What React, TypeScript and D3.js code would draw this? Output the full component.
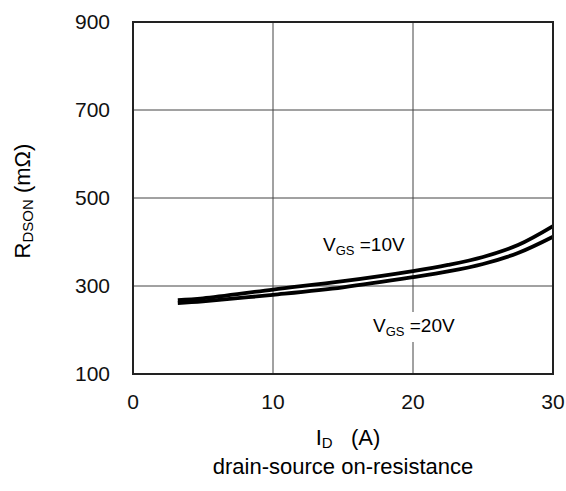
import React, { useEffect, useRef } from "react";
import * as d3 from "d3";

// drain current (A)
const currentA = [3.2, 5, 10, 15, 20, 22.5, 25, 27.5, 30];
// R DSON (mOhm) at VGS = 10V
const rdsVgs10 = [268, 272, 292, 311, 334, 348, 366, 393, 436];
// R DSON (mOhm) at VGS = 20V
const rdsVgs20 = [261, 265, 280, 297, 320, 333, 350, 375, 412];

const xTicks = [0, 10, 20, 30];
const yTicks = [100, 300, 500, 700, 900];

const App = () => {
  const ref = useRef<SVGSVGElement | null>(null);

  useEffect(() => {
    const svg = d3.select(ref.current);
    svg.selectAll("*").remove();

    const margin = { top: 22, left: 133 },
      width = 420,
      height = 352,
      font = "Liberation Sans, Arial, sans-serif";

    const x = d3.scaleLinear().domain([0, 30]).range([0, width]);
    const y = d3.scaleLinear().domain([100, 900]).range([height, 0]);

    const g = svg.append("g")
      .attr("transform", "translate(" + [margin.left, margin.top] + ")");

    // grid
    g.selectAll(".vgrid")
      .data(xTicks.slice(1, -1))
      .enter()
      .append("line")
      .attr("x1", d => x(d))
      .attr("x2", d => x(d))
      .attr("y1", 0)
      .attr("y2", height)
      .attr("stroke", "#444")
      .attr("stroke-width", 1);

    g.selectAll(".hgrid")
      .data(yTicks.slice(1, -1))
      .enter()
      .append("line")
      .attr("x1", 0)
      .attr("x2", width)
      .attr("y1", d => y(d))
      .attr("y2", d => y(d))
      .attr("stroke", "#444")
      .attr("stroke-width", 1);

    // curves
    const line = d3.line<number>()
      .x((d, i) => x(currentA[i]))
      .y(d => y(d))
      .curve(d3.curveCatmullRom.alpha(0.5));

    [rdsVgs10, rdsVgs20].forEach(s => {
      g.append("path")
        .attr("d", line(s))
        .attr("fill", "none")
        .attr("stroke", "#000")
        .attr("stroke-width", 3.8);
    });

    // frame
    g.append("rect")
      .attr("width", width)
      .attr("height", height)
      .attr("fill", "none")
      .attr("stroke", "#222")
      .attr("stroke-width", 2);

    // tick labels
    g.selectAll(".xl")
      .data(xTicks)
      .enter()
      .append("text")
      .attr("x", d => x(d))
      .attr("y", height + 35)
      .attr("text-anchor", "middle")
      .style("font-family", font)
      .style("font-size", "21px")
      .style("fill", "#111")
      .text(d => d);

    g.selectAll(".yl")
      .data(yTicks)
      .enter()
      .append("text")
      .attr("x", -23)
      .attr("y", d => y(d) + 7)
      .attr("text-anchor", "end")
      .style("font-family", font)
      .style("font-size", "21px")
      .style("fill", "#111")
      .text(d => d);

    // curve labels
    const label = (px: number, py: number, txt: string, bg: boolean) => {
      const t = svg.append("text")
        .attr("x", px)
        .attr("y", py)
        .style("font-family", font)
        .style("font-size", "19px");
      t.append("tspan").text("V");
      t.append("tspan").attr("dy", 4).style("font-size", "13px").text("GS");
      t.append("tspan").attr("dy", -4).text(" =" + txt);
      if (bg) {
        const node = t.node() as SVGTextElement;
        const b = node.getBBox();
        svg.insert("rect", () => node)
          .attr("x", b.x - 2)
          .attr("y", b.y - 3)
          .attr("width", b.width + 4)
          .attr("height", b.height + 6)
          .attr("fill", "#fff");
      }
    };
    label(323, 251, "10V", false);
    label(373, 332, "20V", true);

    // axis titles
    const xt = svg.append("text")
      .attr("x", 348)
      .attr("y", 445)
      .attr("text-anchor", "middle")
      .style("font-family", font)
      .style("font-size", "22px");
    xt.append("tspan").text("I");
    xt.append("tspan").attr("dy", 3).style("font-size", "15px").text("D");
    xt.append("tspan").attr("dy", -3).style("white-space", "pre").text("   (A)");

    svg.append("text")
      .attr("x", 343)
      .attr("y", 474)
      .attr("text-anchor", "middle")
      .style("font-family", font)
      .style("font-size", "22px")
      .text("drain-source on-resistance");

    const yt = svg.append("text")
      .attr("transform", "translate(30,201) rotate(-90)")
      .attr("text-anchor", "middle")
      .style("font-family", font)
      .style("font-size", "22px");
    yt.append("tspan").text("R");
    yt.append("tspan").attr("dy", 3).style("font-size", "15px").text("DSON");
    yt.append("tspan").attr("dy", -3).text(" (m\u03A9)");
  }, []);

  return (
    <svg ref={ref} width={566} height={491}
      style={{ position: "absolute", left: 0, top: 0, background: "#fff" }} />
  );
};

export default App;
